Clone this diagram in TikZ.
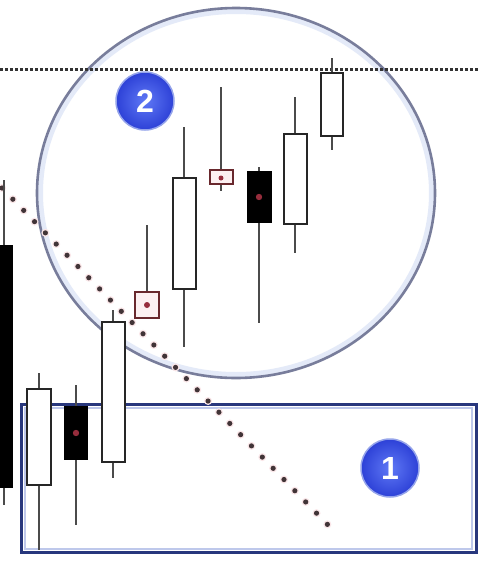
\documentclass[tikz,border=0pt]{standalone}
\usepackage{fontspec}
\setmainfont{Liberation Sans}
\usetikzlibrary{calc}
\definecolor{navy}{RGB}{40,55,125}
\definecolor{lightnavy}{RGB}{190,200,235}
\definecolor{ellcol}{RGB}{120,125,155}
\definecolor{halo}{RGB}{228,234,248}
\definecolor{badgeblue}{RGB}{45,65,215}
\definecolor{badgelight}{RGB}{95,120,245}
\definecolor{badgerim}{RGB}{150,165,235}
\definecolor{dotcol}{RGB}{65,52,55}
\definecolor{pinkhalo}{RGB}{250,230,232}
\definecolor{darkred}{RGB}{105,40,45}
\definecolor{wickcol}{RGB}{75,75,75}
\definecolor{reddot}{RGB}{150,45,60}
\tikzset{
  x=1pt, y=-1pt,
  wick/.style={draw=wickcol, line width=2.2pt},
  whitebody/.style={draw=black!85, line width=2.8pt, fill=white},
  blackbody/.style={draw=black, line width=1.5pt, fill=black},
  redbox/.style={draw=darkred, line width=2.5pt, fill=pinkhalo!60},
  innerdot/.style={fill=reddot, draw=none},
  badge/.style={circle, minimum size=58pt, inner sep=0pt, inner color=badgelight, outer color=badgeblue, draw=badgerim, line width=1.5pt, text=white, font=\bfseries\fontsize{32}{32}\selectfont},
}
\begin{document}
\begin{tikzpicture}
\useasboundingbox (0,0) rectangle (479,563);
\fill[white] (0,0) rectangle (479,563);
% ellipse (area 2)
\draw[halo, line width=5pt] (236,193) ellipse [x radius=195.5, y radius=181.5];
\draw[ellcol, line width=2.6pt] (236,193) ellipse [x radius=199, y radius=185];
% resistance line
\draw[black!80, line width=3pt, dash pattern=on 3pt off 2pt] (0,69) coordinate (hl) -- (479,69) coordinate (hr);
% box 1
\draw[lightnavy, line width=2pt] (25,408) rectangle (472,549);
\draw[navy, line width=3pt] (21,404) rectangle (476,552);
% diagonal trend line
\coordinate (d1) at (2,188);
\coordinate (d2) at (328,525);
\draw[pinkhalo, line width=8pt, line cap=round, dash pattern=on 0pt off 15.6pt] (d1) -- (d2);
\draw[dotcol, line width=5.2pt, line cap=round, dash pattern=on 0pt off 15.6pt] (d1) -- (d2);
% candles
% c1 big black at left edge
\draw[wick] (4,180) -- (4,505);
\fill[black] (0,245) rectangle (13,488);
% c2 white
\draw[wick] (39,373) -- (39,550);
\draw[whitebody] (27,389) rectangle (51,485);
% c3 black
\draw[wick] (76,385) -- (76,525);
\draw[blackbody] (65,407) rectangle (87,459);
\fill[innerdot] (76,433) circle (3.2);
% c4 white tall
\draw[wick] (113,310) -- (113,478);
\draw[whitebody] (102,322) rectangle (125,462);
% c5 small red
\draw[wick] (147,225) -- (147,292);
\draw[redbox] (135,292) rectangle (159,318);
\fill[innerdot] (147,305) circle (3);
% c6 white
\draw[wick] (184,127) -- (184,347);
\draw[whitebody] (173,178) rectangle (196,289);
% c7 small red
\draw[wick] (221,87) -- (221,191);
\draw[redbox] (210,170) rectangle (233,184);
\fill[innerdot] (221,178) circle (2.5);
% c8 black
\draw[wick] (259,167) -- (259,323);
\draw[blackbody] (248,172) rectangle (271,222);
\fill[innerdot] (259,197) circle (3.2);
% c9 white
\draw[wick] (295,97) -- (295,253);
\draw[whitebody] (284,134) rectangle (307,224);
% c10 white
\draw[wick] (332,58) -- (332,150);
\draw[whitebody] (321,73) rectangle (343,136);
% badges
\node[badge] (b2) at (145,101) {2};
\node[badge] (b1) at (390,468) {1};
\end{tikzpicture}
\end{document}
